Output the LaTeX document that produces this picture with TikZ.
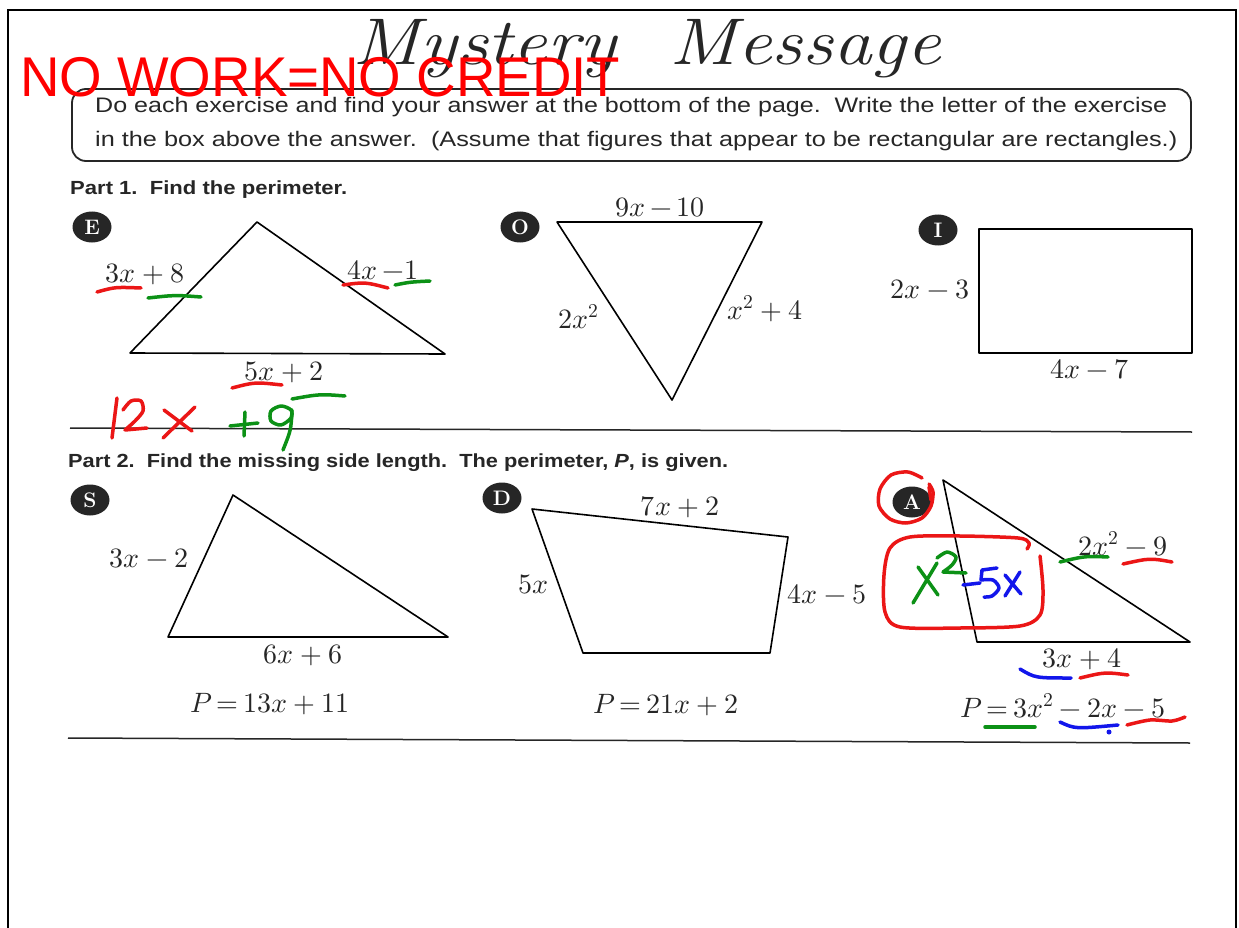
\documentclass[tikz,border=0pt]{standalone}
\usepackage{fontspec}
\usepackage{unicode-math}
\setmathfont{Latin Modern Math}
\newfontfamily\arialf{Liberation Sans}
\usetikzlibrary{shapes.geometric}
\definecolor{penred}{RGB}{235,22,22}
\definecolor{pengreen}{RGB}{12,145,22}
\definecolor{penblue}{RGB}{18,22,235}
\definecolor{inkgray}{RGB}{38,38,38}
\definecolor{banner}{RGB}{255,0,0}
\newcommand{\msz}{\fontsize{28}{30}\selectfont}
\thickmuskip=3mu plus 2mu
\begin{document}
\begin{tikzpicture}[x=1pt,y=-1pt,
  fig/.style={draw=black, line width=1.6pt, line join=round},
  lbl/.style={inner sep=0pt, anchor=base, font=\msz, text=inkgray},
  badge/.style={ellipse, fill=inkgray, minimum width=39pt, minimum height=31pt, inner sep=0pt, text=white, font=\bfseries\fontsize{21}{21}\selectfont},
  pen/.style={line width=3.5pt, line cap=round, line join=round},
  sep/.style={draw=inkgray, line width=1.5pt},
  txt/.style={inner sep=0pt, anchor=base west, text=inkgray}]
\useasboundingbox (0,0) rectangle (1239,928);
\fill[white] (0,0) rectangle (1239,928);
% page border
\draw[black, line width=2pt] (8,930) -- (8,10) -- (1236,10) -- (1236,930);
% title
\node[inner sep=0pt, anchor=base, text=inkgray] (title) at (647,65) {\resizebox{588pt}{\height}{\fontsize{66}{68}\selectfont\itshape Mystery\ \ Message}};
% instruction box
\draw[inkgray, line width=1.8pt, rounded corners=14pt] (72,89) rectangle (1191,161);
\node[txt] (ins1) at (95,113) {\resizebox{1072pt}{\height}{\arialf\fontsize{21}{21}\selectfont Do each exercise and find your answer at the bottom of the page.\ \ Write the letter of the exercise}};
\node[txt] (ins2) at (95,147) {\resizebox{1082pt}{\height}{\arialf\fontsize{21}{21}\selectfont in the box above the answer.\ \ (Assume that figures that appear to be rectangular are rectangles.)}};
% banner
\node[inner sep=0pt, anchor=base west, text=banner] (nowork) at (20,97) {\resizebox{600pt}{\height}{\arialf\fontsize{56}{56}\selectfont NO WORK=NO CREDIT}};
% headings
\node[txt] (part1) at (70,195) {\resizebox{277pt}{\height}{\arialf\bfseries\fontsize{19}{19}\selectfont Part 1.\ \ Find the perimeter.}};
\node[txt] (part2) at (68,467) {\resizebox{660pt}{\height}{\arialf\bfseries\fontsize{19}{19}\selectfont Part 2.\ \ Find the missing side length.\ \ The perimeter, \textit{P}, is given.}};
% separators
\draw[sep] (70,428) -- (1192,432);
\draw[sep] (68,738) -- (1190,743);
% badges
\node[badge] (bE) at (92,227) {E};
\node[badge] (bO) at (520,227) {O};
\node[badge] (bI) at (938,230) {I};
\node[badge] (bS) at (90,500) {S};
\node[badge] (bD) at (502,498) {D};
\node[badge] (bA) at (912,502) {A};
% figure E
\coordinate (e1) at (257,222); \coordinate (e2) at (130,353); \coordinate (e3) at (445,354);
\draw[fig] (e1) -- (e2) -- (e3) -- cycle;
\node[lbl] (lE1) at (145,282) {$3x+8$};
\node[lbl] (lE2) at (383,279) {$4x\,{-}1$};
\node[lbl] (lE3) at (284,380) {$5x+2$};
% figure O
\coordinate (o1) at (557,222); \coordinate (o2) at (762,222); \coordinate (o3) at (672,400);
\draw[fig] (o1) -- (o2) -- (o3) -- cycle;
\node[lbl] (lO1) at (660,216) {$9x\,{-}\,10$};
\node[lbl] (lO2) at (579,328) {$2x^2$};
\node[lbl] (lO3) at (765,319) {$x^2+4$};
% figure I
\draw[fig] (979,229) rectangle (1192,353);
\node[lbl] (lI1) at (930,298) {$2x-3$};
\node[lbl] (lI2) at (1090,378) {$4x-7$};
% figure S
\coordinate (s1) at (233,495); \coordinate (s2) at (168,637); \coordinate (s3) at (448,637);
\draw[fig] (s1) -- (s2) -- (s3) -- cycle;
\node[lbl] (lS1) at (149,567) {$3x-2$};
\node[lbl] (lS2) at (303,663) {$6x+6$};
\node[lbl] (lS3) at (270,712) {$P=13x+11$};
% figure D
\coordinate (d1) at (532,509); \coordinate (d2) at (788,537); \coordinate (d3) at (770,653); \coordinate (d4) at (583,653);
\draw[fig] (d1) -- (d2) -- (d3) -- (d4) -- cycle;
\node[lbl] (lD1) at (680,515) {$7x+2$};
\node[lbl] (lD2) at (534,593) {$5x$};
\node[lbl] (lD3) at (827,603) {$4x-5$};
\node[lbl] (lD4) at (666,713) {$P=21x+2$};
% figure A
\coordinate (a1) at (943,480); \coordinate (a2) at (977,642); \coordinate (a3) at (1190,642);
\draw[fig] (a1) -- (a2) -- (a3) -- cycle;
\node[lbl] (lA1) at (1123,555) {$2x^2-9$};
\node[lbl] (lA2) at (1082,667) {$3x+4$};
\node[lbl] (lA3) at (1063,717) {$P=3x^2-2x-5$};
% ---- handwriting, part 1
\draw[pen,penred] (97,292) .. controls (115,287) .. (141,288);
\draw[pen,pengreen] (148,298) .. controls (175,295) .. (201,297);
\draw[pen,penred] (343,285) .. controls (365,282) .. (388,288);
\draw[pen,pengreen] (395,285) .. controls (410,282) .. (430,281);
\draw[pen,penred] (232,388) .. controls (255,382) .. (282,385);
\draw[pen,pengreen] (292,399) .. controls (320,394) .. (345,396);
% 12x
\draw[pen,penred] (117,398) -- (112,438);
\draw[pen,penred] plot[smooth] coordinates {(123,410) (131,401) (141,401) (143,411) (135,421) (125,430)} -- (147,428);
\draw[pen,penred] (164,410) -- (192,431);
\draw[pen,penred] (195,407) -- (163,438);
% +9
\draw[pen,pengreen] (230,426) -- (258,423);
\draw[pen,pengreen] (245,412) -- (244,436);
\draw[pen,pengreen] plot[smooth cycle] coordinates {(291,410) (281,406) (271,411) (271,421) (281,425) (291,418)};
\draw[pen,pengreen] (292,410) .. controls (291,430) .. (283,450);
% ---- handwriting, part 2 (A)
\draw[pen,penred] plot[smooth] coordinates {(922,478) (908,472) (891,475) (880,489) (879,506) (890,519) (906,523) (922,518) (931,506) (933,492) (929,484)};
\draw[pen,penred] (929,487) -- (931,500);
\draw[pen,penred] plot[smooth] coordinates {(1040,556) (1043,590) (1040,615) (1020,626) (960,628) (900,627) (885,612) (884,575) (890,548) (910,537) (960,536) (1018,538) (1029,543) (1027,549)};
% X^2
\draw[pen,pengreen] (918,567) -- (938,595);
\draw[pen,pengreen] (937,563) -- (913,603);
\draw[pen,pengreen] plot[smooth] coordinates {(937,558) (947,552) (956,557) (952,565) (943,572)} -- (966,573);
% -5x
\draw[pen,penblue] (963,585) -- (980,583);
\draw[pen,penblue] (997,568) -- (982,570) -- (981,580);
\draw[pen,penblue] plot[smooth] coordinates {(981,580) (993,580) (999,588) (992,596) (984,597)};
\draw[pen,penblue] (1005,575) -- (1021,594);
\draw[pen,penblue] (1020,572) -- (1005,596);
% underlines A
\draw[pen,pengreen] (1060,562) .. controls (1085,556) .. (1108,557);
\draw[pen,penred] (1123,564) .. controls (1150,558) .. (1172,562);
\draw[pen,penblue] (1020,669) .. controls (1035,678) .. (1071,678);
\draw[pen,penred] (1080,678) .. controls (1105,672) .. (1128,675);
\draw[pen,pengreen] (985,727) -- (1035,727);
\draw[pen,penblue] (1060,722) .. controls (1075,729) .. (1118,725);
\fill[penblue] (1109,732) circle (2.5);
\draw[pen,penred] plot[smooth] coordinates {(1127,725) (1150,720) (1172,721) (1185,717)};
\end{tikzpicture}
\end{document}
